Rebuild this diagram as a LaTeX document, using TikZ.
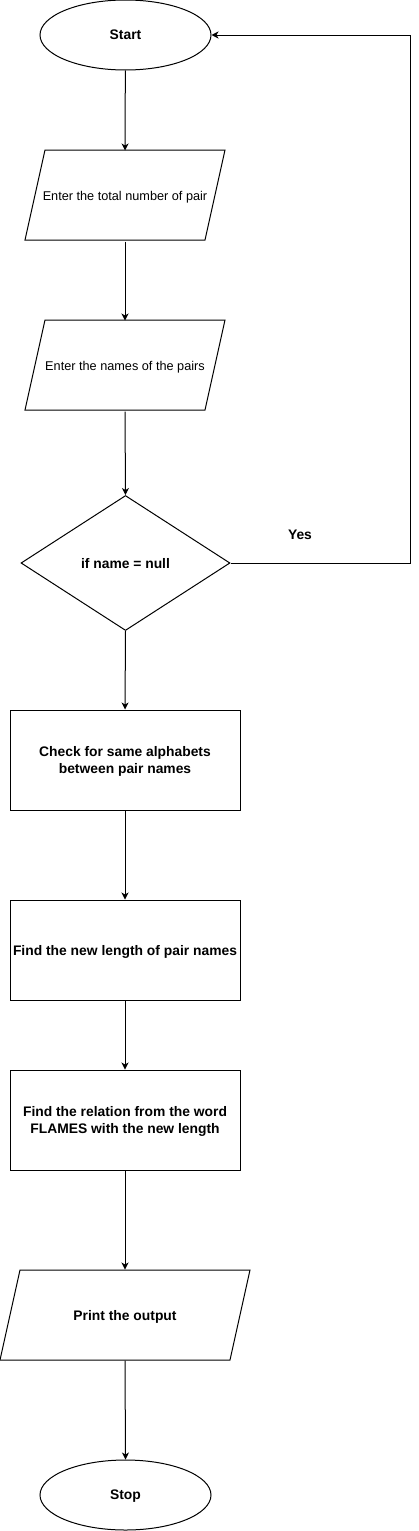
\documentclass[tikz,border=0pt]{standalone}
\usepackage{fontspec}
\setmainfont{Liberation Sans}
\usetikzlibrary{shapes.geometric,arrows.meta}
\begin{document}
\begin{tikzpicture}[x=1pt,y=-1pt,
  line width=1pt,
  conn/.style={-{Stealth[length=7pt,width=7pt,inset=2pt]}},
  boldtxt/.style={font=\fontsize{13.85}{16.6}\selectfont\bfseries, align=center, text depth=0pt},
  regtxt/.style={font=\fontsize{12.7}{15}\selectfont, align=center, text depth=0pt},
  term/.style={ellipse, draw, minimum width=171pt, minimum height=70pt, inner sep=0pt, boldtxt},
  procbox/.style={rectangle, draw, minimum width=230pt, minimum height=100pt, inner sep=0pt, boldtxt},
  iobox/.style={rectangle, inner sep=0pt, minimum height=90pt},
  decision/.style={diamond, draw, minimum width=209pt, minimum height=135pt, inner sep=0pt, boldtxt}
]
\useasboundingbox (0,0) rectangle (419,1531);

% terminals
\node[term] (start) at (125.5,35) {Start};
\node[term] (stop) at (125.5,1495) {Stop};

% input/output parallelograms
\node[iobox, minimum width=180pt, regtxt] (in1) at (125,196) {Enter the total number of pair};
\draw (45,150) -- (225,150) -- (205,240) -- (25,240) -- cycle;
\node[iobox, minimum width=180pt, regtxt] (in2) at (125,366) {Enter the names of the pairs};
\draw (45,320) -- (225,320) -- (205,410) -- (25,410) -- cycle;

% decision
\node[decision] (dec) at (125.5,563) {if name = null};
\node[boldtxt] (yes) at (300,535) {Yes};

% process boxes
\node[procbox] (p1) at (125,760) {Check for same alphabets\\between pair names};
\node[procbox] (p2) at (125,950) {Find the new length of pair names};
\node[procbox] (p3) at (125,1120) {Find the relation from the word\\FLAMES with the new length};

% output
\node[iobox, minimum width=230pt, boldtxt] (out) at (125,1315) {Print the output};
\draw (20,1270) -- (250,1270) -- (230,1360) -- (0,1360) -- cycle;

% connectors
\draw[conn] (start) -- (in1.north);
\draw[conn] (in1.south) -- (in2.north);
\draw[conn] (in2.south) -- (dec.north);
\draw[conn] (dec.south) -- (p1.north);
\draw[conn] (p1) -- (p2);
\draw[conn] (p2) -- (p3);
\draw[conn] (p3.south) -- (out.north);
\draw[conn] (out.south) -- (stop.north);

\coordinate (c1) at (410,563);
\coordinate (c2) at (410,35);
\draw[conn] (dec.east) -- (c1) -- (c2) -- (start.east);
\end{tikzpicture}
\end{document}
